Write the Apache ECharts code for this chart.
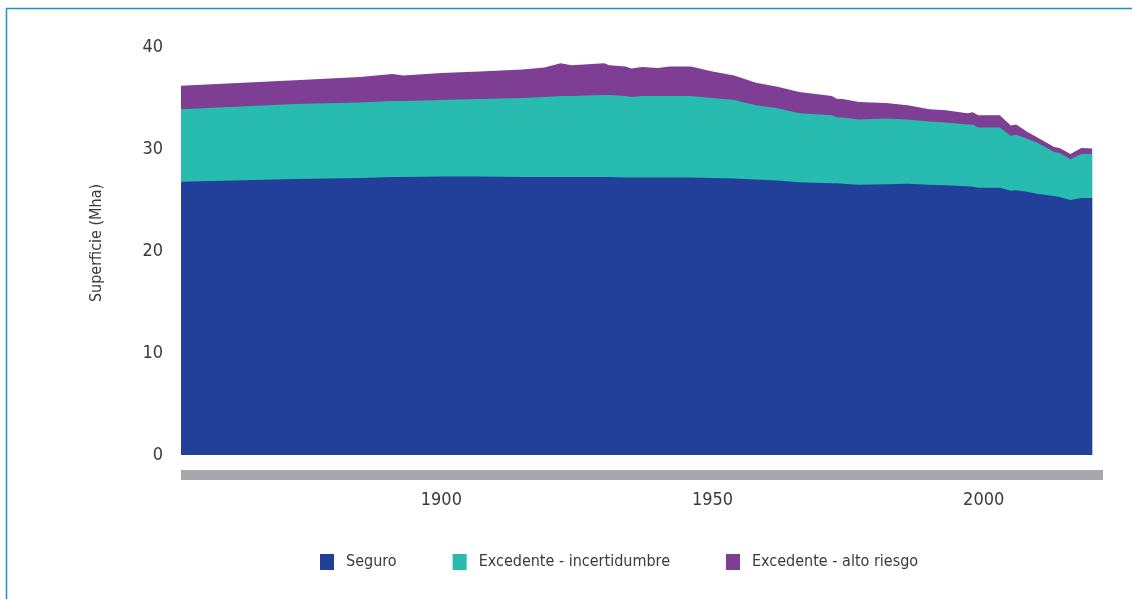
<!DOCTYPE html>
<html>
<head>
<meta charset="utf-8">
<script src="https://cdn.jsdelivr.net/npm/echarts@6/dist/echarts.min.js"></script>
<style>
html,body{margin:0;padding:0;background:#fff;}
#c{width:1132px;height:599px;}
</style>
</head>
<body>
<div id="c"></div>
<script>
const years = [1852,1873,1885,1891,1893,1900,1907,1915,1919,1922,1924,1930,1931,1934,1935,1937,1940,1942,1946,1950,1954,1958,1962,1966,1972,1973,1974,1977,1982,1986,1990,1993,1997,1998,1999,2003,2004,2005,2006,2008,2010,2013,2014,2016,2018,2020];
const seguro = [26.8,27.05,27.15,27.25,27.25,27.3,27.3,27.25,27.25,27.25,27.25,27.25,27.25,27.2,27.2,27.2,27.2,27.2,27.2,27.15,27.1,27.0,26.9,26.75,26.65,26.65,26.6,26.5,26.55,26.6,26.5,26.45,26.35,26.3,26.2,26.2,26.05,25.9,25.95,25.8,25.6,25.4,25.3,25.0,25.2,25.2];
const incertidumbre = [7.1,7.35,7.4,7.45,7.45,7.5,7.6,7.75,7.85,7.95,7.95,8.05,8.05,8.0,7.9,8.0,8.0,8.0,8.0,7.85,7.7,7.3,7.1,6.75,6.65,6.45,6.5,6.4,6.45,6.3,6.2,6.15,6.05,6.1,5.9,5.9,5.65,5.4,5.45,5.2,5.0,4.3,4.3,4.0,4.3,4.3];
const altoRiesgo = [2.3,2.35,2.5,2.65,2.5,2.65,2.7,2.8,2.9,3.2,3.0,3.1,2.9,2.9,2.8,2.85,2.75,2.9,2.9,2.6,2.4,2.2,2.1,2.1,1.9,1.8,1.8,1.7,1.5,1.4,1.2,1.2,1.1,1.2,1.2,1.2,1.1,1.0,1.0,0.7,0.5,0.5,0.5,0.5,0.6,0.55];
const xTicks = [1900,1950,2000];
const seriesNames = ['Seguro','Excedente - incertidumbre','Excedente - alto riesgo'];
const colors = ['#22409a','#28bbb0','#7e3e94'];

const FONT = "'Noto Sans ExtraCondensed','Noto Sans Condensed','Liberation Sans Narrow','DejaVu Sans Condensed',sans-serif";
const chart = echarts.init(document.getElementById('c'), null, {renderer:'canvas'});

// cumulative tops built from the named arrays (stack drawn back-to-front)
const cum1 = seguro.slice();
const cum2 = seguro.map((v,i)=>v + incertidumbre[i]);
const cum3 = cum2.map((v,i)=>v + altoRiesgo[i]);
const pair = arr => years.map((y,i)=>[y, +arr[i].toFixed(3)]);
const mk = (name, arr, color, z) => ({
  name, type:'line', data: pair(arr), z,
  showSymbol:false, symbol:'none',
  lineStyle:{width:0, color},
  itemStyle:{color},
  areaStyle:{color, opacity:1, origin:'start'},
  emphasis:{disabled:true}
});
chart.setOption({
  animation:false,
  backgroundColor:'#fff',
  grid:{left:181, right:29, top:47, bottom:144},
  xAxis:{
    type:'value', min:1852, max:2022,
    offset:20,
    axisLine:{show:true, onZero:false, lineStyle:{color:'#a7a8ab', width:10, cap:'butt'}},
    axisTick:{show:false},
    splitLine:{show:false},
    axisLabel:{
      customValues: xTicks,
      formatter: v => String(v),
      margin:16, fontFamily:FONT, fontSize:18, color:'#3a3a3a'
    }
  },
  yAxis:{
    type:'value', min:0, max:40, interval:10,
    axisLine:{show:false}, axisTick:{show:false}, splitLine:{show:false},
    axisLabel:{margin:18, fontFamily:FONT, fontSize:18, color:'#3a3a3a', padding:[3,0,0,0]}
  },
  legend:{
    left:320, top:554, padding:0, itemWidth:14, itemHeight:16, itemGap:56,
    icon:'rect',
    data: seriesNames.map((n,i)=>({name:n, itemStyle:{color:colors[i]}})),
    textStyle:{fontFamily:FONT, fontSize:16, color:'#3a3a3a', padding:[0,0,0,7]}
  },
  graphic:[
    {type:'line', shape:{x1:6, y1:8.5, x2:1132, y2:8.5}, style:{stroke:'#1b95bd', lineWidth:1.5}},
    {type:'line', shape:{x1:6.5, y1:8, x2:6.5, y2:599}, style:{stroke:'#1b95bd', lineWidth:1.5}},
    {type:'text', x:97, y:243, rotation:Math.PI/2,
      style:{text:'Superficie (Mha)', fontFamily:FONT, fontSize:16, fill:'#3a3a3a', align:'center', verticalAlign:'middle'}}
  ],
  series:[
    mk(seriesNames[2], cum3, colors[2], 2),
    mk(seriesNames[1], cum2, colors[1], 3),
    mk(seriesNames[0], cum1, colors[0], 4)
  ]
});
</script>
</body>
</html>
